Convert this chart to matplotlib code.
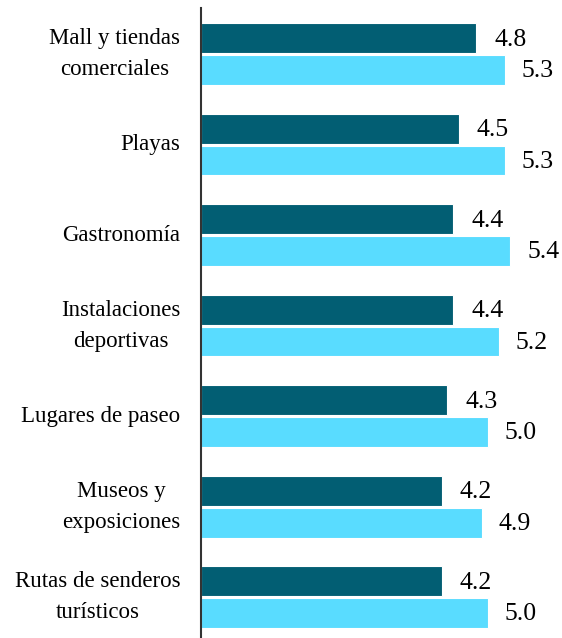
import matplotlib.pyplot as plt
import numpy as np

plt.rcParams['font.family'] = ['Liberation Serif', 'DejaVu Serif']

categories = ["Mall y tiendas\ncomerciales", "Playas", "Gastronomía",
              "Instalaciones\ndeportivas", "Lugares de paseo",
              "Museos y\nexposiciones", "Rutas de senderos\nturísticos"]
serie_a = [4.8, 4.5, 4.4, 4.4, 4.3, 4.2, 4.2]
serie_b = [5.3, 5.3, 5.4, 5.2, 5.0, 4.9, 5.0]

dark = "#025E73"
light = "#59DCFF"

fig = plt.figure(figsize=(5.62, 6.38), dpi=100)
ax = fig.add_axes([201/562, 0, 1 - 201/562, 1 - 8/638])

y = np.arange(len(categories))
h = 0.33
off = 0.175
ax.barh(y - off, serie_a, height=h, color=dark, edgecolor="white", linewidth=0.8)
ax.barh(y + off, serie_b, height=h, color=light, edgecolor="white", linewidth=0.8)

for yi, a, b in zip(y, serie_a, serie_b):
    ax.annotate(f"{a:.1f}", xy=(a, yi - off), xytext=(13, -1), textcoords="offset points",
                va="center", ha="left", fontsize=18.5)
    ax.annotate(f"{b:.1f}", xy=(b, yi + off), xytext=(12, -1), textcoords="offset points",
                va="center", ha="left", fontsize=18.5)

for yi, c in zip(y, categories):
    ax.annotate(c, xy=(0, yi), xytext=(-15, 0), textcoords="offset points",
                va="center", ha="right", multialignment="center",
                fontsize=16.5, linespacing=1.6)

ax.set_xlim(0, 6.3)
ax.set_ylim(6.45, -0.51)
ax.set_xticks([])
ax.set_yticks([])
ax.spines[["top", "right", "bottom"]].set_visible(False)
ax.spines["left"].set_color("#333333")
ax.spines["left"].set_linewidth(1.5)

fig.savefig("out.png", dpi=100)
